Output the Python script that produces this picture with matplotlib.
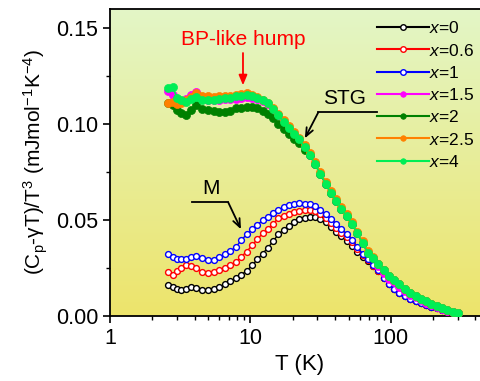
import numpy as np
import matplotlib

matplotlib.use("agg")
import matplotlib.pyplot as plt
from matplotlib.ticker import MultipleLocator, LogLocator, FixedLocator, NullFormatter

plt.rcParams["font.family"] = ["Liberation Sans", "DejaVu Sans"]
plt.rcParams["mathtext.fontset"] = "custom"
plt.rcParams["mathtext.rm"] = "Liberation Sans"
plt.rcParams["mathtext.it"] = "Liberation Sans:italic"

# temperature grid (K)
temp = [2.6, 2.8, 3.0, 3.2, 3.5, 3.8, 4.1, 4.5, 5.0, 5.5,
        6.0, 6.6, 7.2, 7.9, 8.6, 9.4, 10.3, 11.2, 12.2, 13.3,
        14.5, 15.8, 17.2, 18.8, 20.5, 22.3, 24.3, 26.5, 28.9, 31.5,
        34.3, 37.4, 40.8, 44.5, 48.5, 52.9, 57.7, 62.9, 68.6, 74.8,
        81.6, 89, 97, 106, 115, 126, 137, 150, 163, 178,
        194, 212, 231, 252, 275, 300]

# (Cp - gamma T)/T^3 for each composition
c_x0 = [0.0161, 0.0150, 0.0140, 0.0135, 0.0140, 0.0152, 0.0148, 0.0136, 0.0136, 0.0139,
        0.0150, 0.0165, 0.0180, 0.0196, 0.0215, 0.0235, 0.0265, 0.0295, 0.0325, 0.0355,
        0.0390, 0.0425, 0.0450, 0.0470, 0.0490, 0.0505, 0.0512, 0.0517, 0.0515, 0.0508,
        0.0490, 0.0465, 0.0440, 0.0415, 0.0390, 0.0365, 0.0335, 0.0310, 0.0285, 0.0260,
        0.0235, 0.0200, 0.0168, 0.0142, 0.0122, 0.0104, 0.0090, 0.0078, 0.0067, 0.0057,
        0.0048, 0.0040, 0.0032, 0.0025, 0.0020, 0.0016]
c_x06 = [0.0228, 0.0214, 0.0232, 0.0250, 0.0265, 0.0260, 0.0248, 0.0230, 0.0222, 0.0230,
         0.0240, 0.0250, 0.0265, 0.0283, 0.0310, 0.0335, 0.0370, 0.0400, 0.0430, 0.0455,
         0.0480, 0.0510, 0.0522, 0.0533, 0.0542, 0.0548, 0.0551, 0.0550, 0.0545, 0.0533,
         0.0510, 0.0485, 0.0460, 0.0435, 0.0410, 0.0385, 0.0350, 0.0318, 0.0290, 0.0262,
         0.0236, 0.0200, 0.0168, 0.0142, 0.0122, 0.0104, 0.0090, 0.0078, 0.0067, 0.0057,
         0.0048, 0.0040, 0.0032, 0.0025, 0.0020, 0.0016]
c_x1 = [0.0323, 0.0310, 0.0298, 0.0296, 0.0297, 0.0305, 0.0314, 0.0302, 0.0290, 0.0292,
        0.0305, 0.0322, 0.0340, 0.0360, 0.0395, 0.0425, 0.0452, 0.0475, 0.0498, 0.0518,
        0.0537, 0.0553, 0.0566, 0.0576, 0.0583, 0.0587, 0.0586, 0.0582, 0.0572, 0.0555,
        0.0530, 0.0505, 0.0480, 0.0455, 0.0428, 0.0398, 0.0360, 0.0325, 0.0295, 0.0265,
        0.0238, 0.0200, 0.0168, 0.0142, 0.0122, 0.0104, 0.0090, 0.0078, 0.0067, 0.0057,
        0.0048, 0.0040, 0.0032, 0.0025, 0.0020, 0.0016]
c_x15 = [0.1175, 0.1150, 0.1115, 0.1120, 0.1130, 0.1150, 0.1165, 0.1140, 0.1125, 0.1125,
         0.1128, 0.1130, 0.1130, 0.1132, 0.1135, 0.1140, 0.1138, 0.1130, 0.1120, 0.1105,
         0.1078, 0.1048, 0.1008, 0.0978, 0.0948, 0.0920, 0.0880, 0.0840, 0.0790, 0.0740,
         0.0690, 0.0640, 0.0600, 0.0560, 0.0520, 0.0480, 0.0430, 0.0380, 0.0330, 0.0300,
         0.0260, 0.0225, 0.0195, 0.0175, 0.0152, 0.0130, 0.0112, 0.0097, 0.0083, 0.0070,
         0.0058, 0.0047, 0.0037, 0.0028, 0.0021, 0.0016]
c_x2 = [0.1110, 0.1100, 0.1075, 0.1060, 0.1047, 0.1075, 0.1100, 0.1080, 0.1072, 0.1066,
        0.1064, 0.1064, 0.1070, 0.1082, 0.1086, 0.1090, 0.1090, 0.1085, 0.1070, 0.1055,
        0.1030, 0.1000, 0.0975, 0.0950, 0.0925, 0.0900, 0.0865, 0.0840, 0.0790, 0.0740,
        0.0690, 0.0640, 0.0600, 0.0560, 0.0520, 0.0480, 0.0430, 0.0380, 0.0330, 0.0300,
        0.0270, 0.0240, 0.0210, 0.0190, 0.0165, 0.0140, 0.0122, 0.0105, 0.0090, 0.0076,
        0.0063, 0.0051, 0.0040, 0.0030, 0.0023, 0.0018]
c_x25 = [0.1110, 0.1115, 0.1105, 0.1110, 0.1125, 0.1140, 0.1160, 0.1148, 0.1145, 0.1140,
         0.1145, 0.1145, 0.1148, 0.1152, 0.1158, 0.1160, 0.1152, 0.1142, 0.1128, 0.1110,
         0.1085, 0.1055, 0.1020, 0.0990, 0.0960, 0.0930, 0.0890, 0.0850, 0.0800, 0.0750,
         0.0700, 0.0650, 0.0610, 0.0570, 0.0530, 0.0490, 0.0440, 0.0390, 0.0340, 0.0310,
         0.0270, 0.0240, 0.0210, 0.0190, 0.0165, 0.0140, 0.0122, 0.0105, 0.0090, 0.0076,
         0.0063, 0.0051, 0.0040, 0.0030, 0.0023, 0.0018]
c_x4 = [0.1186, 0.1195, 0.1135, 0.1125, 0.1115, 0.1130, 0.1142, 0.1128, 0.1125, 0.1128,
        0.1132, 0.1134, 0.1138, 0.1145, 0.1148, 0.1150, 0.1146, 0.1138, 0.1125, 0.1108,
        0.1080, 0.1050, 0.1010, 0.0980, 0.0950, 0.0920, 0.0880, 0.0840, 0.0790, 0.0740,
        0.0690, 0.0640, 0.0600, 0.0560, 0.0520, 0.0480, 0.0430, 0.0380, 0.0330, 0.0300,
        0.0270, 0.0240, 0.0210, 0.0190, 0.0165, 0.0140, 0.0122, 0.0105, 0.0090, 0.0076,
        0.0063, 0.0051, 0.0040, 0.0030, 0.0023, 0.0018]

labels = ["0", "0.6", "1", "1.5", "2", "2.5", "4"]
colors = ["#000000", "#ff0000", "#0000ff", "#ff00ff", "#008000", "#ff8000", "#00ee55"]
open_marker = [True, True, True, False, False, False, False]
series = [c_x0, c_x06, c_x1, c_x15, c_x2, c_x25, c_x4]

fig = plt.figure(figsize=(4.81, 3.81), dpi=100)
ax = fig.add_axes([0.2287, 0.1706, 0.788, 0.8058])

# yellow-green background gradient
grad = np.linspace(0, 1, 256).reshape(-1, 1)
top = np.array([0.89, 0.965, 0.78])
bot = np.array([0.93, 0.895, 0.42])
img = top[None, None, :] * (1 - grad[..., None]) + bot[None, None, :] * grad[..., None]
ax.imshow(img, extent=[0, 1, 0, 1], transform=ax.transAxes, aspect="auto", zorder=0)

for vals, lab, col, op in zip(series, labels, colors, open_marker):
    if op:
        ax.plot(temp, vals, "-o", color=col, lw=1.0, ms=4.2, mfc="white",
                mec=col, mew=1.0, label=f"$x$={lab}", zorder=3)
    else:
        ax.plot(temp, vals, "-o", color=col, lw=1.2, ms=5.8, mfc=col,
                mec=col, mew=0.5, label=f"$x$={lab}", zorder=3)

ax.set_xscale("log")
ax.set_xlim(1, 500)
ax.set_ylim(0, 0.16)
ax.xaxis.set_major_locator(FixedLocator([1, 10, 100]))
ax.set_xticklabels(["1", "10", "100"])
ax.xaxis.set_minor_locator(LogLocator(base=10, subs=np.arange(2, 10)))
ax.xaxis.set_minor_formatter(NullFormatter())
ax.yaxis.set_major_locator(MultipleLocator(0.05))
ax.yaxis.set_minor_locator(MultipleLocator(0.025))
ax.yaxis.set_major_formatter(matplotlib.ticker.FormatStrFormatter("%.2f"))

ax.tick_params(which="major", direction="out", length=5, width=1.2, labelsize=15.5)
ax.tick_params(which="minor", direction="out", length=3, width=1.0)
for sp in ax.spines.values():
    sp.set_linewidth(1.3)

ax.set_xlabel("T (K)", fontsize=16)
ax.set_ylabel("(C$_\\mathrm{p}$-γT)/T$^3$ (mJmol$^{-1}$K$^{-4}$)", fontsize=15)

# annotations
ax.text(8.85, 0.1443, "BP-like hump", color="red", fontsize=15, ha="center", va="center")
ax.annotate("", xy=(8.85, 0.1188), xytext=(8.85, 0.1385),
            arrowprops=dict(arrowstyle="-|>,head_length=0.6,head_width=0.25",
                            color="red", lw=1.3))

ax.text(47.1, 0.1135, "STG", fontsize=15, ha="center", va="center")
ax.plot([79.1, 30.4], [0.1061, 0.1061], color="black", lw=1.3, zorder=4)
ax.annotate("", xy=(24.4, 0.0926), xytext=(30.4, 0.1061),
            arrowprops=dict(arrowstyle="->,head_length=0.6,head_width=0.25",
                            color="black", lw=1.3, shrinkA=0, shrinkB=0))

ax.text(5.22, 0.0667, "M", fontsize=15, ha="center", va="center")
ax.plot([3.815, 6.95], [0.0592, 0.0592], color="black", lw=1.3, zorder=4)
ax.annotate("", xy=(8.56, 0.0452), xytext=(6.95, 0.0592),
            arrowprops=dict(arrowstyle="->,head_length=0.6,head_width=0.25",
                            color="black", lw=1.3, shrinkA=0, shrinkB=0))

leg = ax.legend(loc="upper left", bbox_to_anchor=(0.675, 1.0), frameon=False, fontsize=12.5,
                handlelength=3.0, handletextpad=0.0, labelspacing=0.36, borderaxespad=0.25)
for h in leg.get_lines():
    h.set_markersize(4.0)
    h.set_linewidth(1.5)

fig.savefig("out.png", dpi=100)
